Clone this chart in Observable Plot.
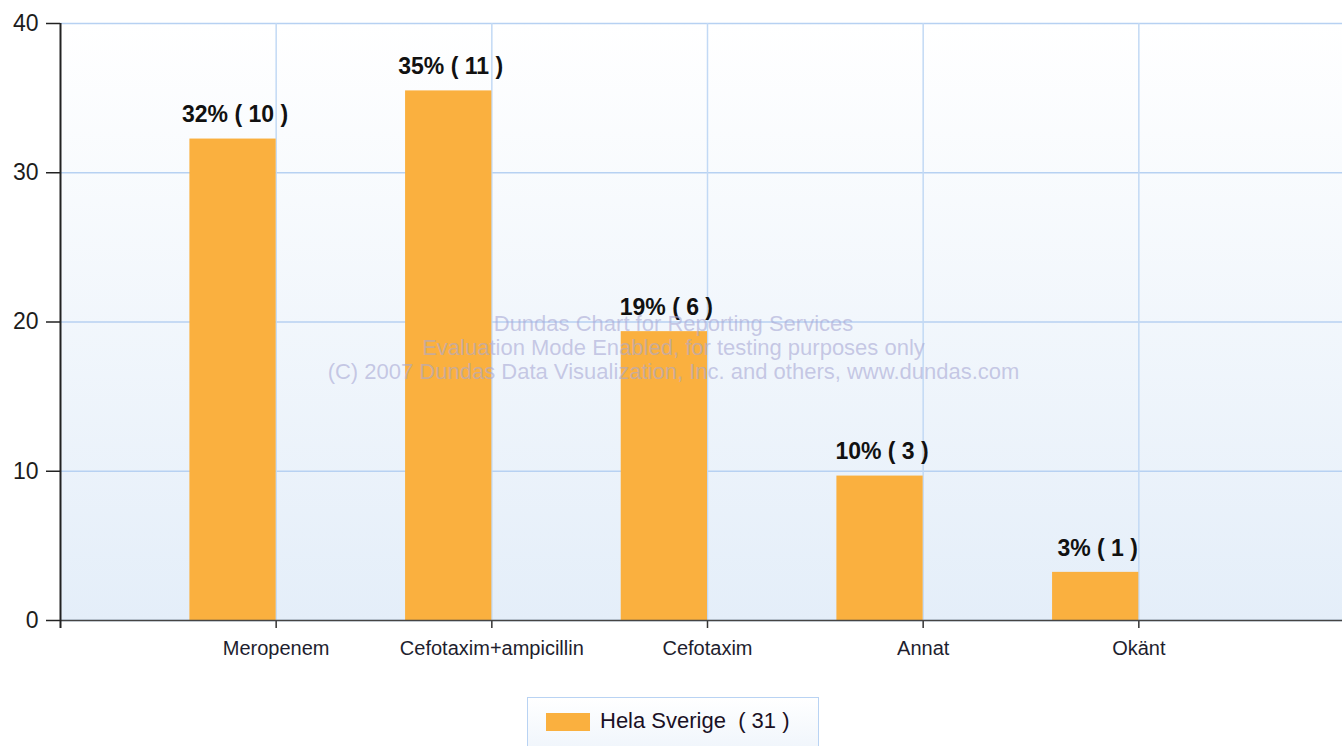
<!DOCTYPE html>
<html><head><meta charset="utf-8">
<script src="https://cdn.jsdelivr.net/npm/d3@7"></script>
<script src="https://cdn.jsdelivr.net/npm/@observablehq/plot@0.6"></script>
<style>
html,body{margin:0;overflow:hidden;}
body{background:#fff;position:relative;width:1342px;height:746px;font-family:"Liberation Sans",Arial,sans-serif;}
#chart{width:1342px;overflow:hidden;}
#chart svg{display:block;max-width:none !important;}
#legend{position:absolute;left:527px;top:697px;width:292px;height:60px;border:1.5px solid #b9d3f3;background:linear-gradient(#ffffff,#eef4fb);box-sizing:border-box;}
#legend .sw{position:absolute;left:18px;top:15px;width:44px;height:18px;background:#FAB03F;}
#legend .tx{position:absolute;left:72px;top:10px;font-size:22px;color:#1a1024;white-space:pre;line-height:26px;}
</style></head><body>
<svg width="0" height="0" style="position:absolute"><defs><linearGradient id="bg" x1="0" y1="0" x2="0" y2="1"><stop offset="0" stop-color="#ffffff"/><stop offset="1" stop-color="#e4eef9"/></linearGradient></defs></svg>
<div id="chart"></div>
<div id="legend"><div class="sw"></div><div class="tx"></div></div>
<script>
const categories = ["Meropenem", "Cefotaxim+ampicillin", "Cefotaxim", "Annat", "Okänt"];
const counts = [10, 11, 6, 3, 1];
const total = 31;
const percentLabels = ["32%", "35%", "19%", "10%", "3%"];
const yTicks = [0, 10, 20, 30, 40];
const seriesName = "Hela Sverige";
const watermark = ["Dundas Chart for Reporting Services", "Evaluation Mode Enabled, for testing purposes only", "(C) 2007 Dundas Data Visualization, Inc. and others, www.dundas.com"];

const data = categories.map((c, k) => ({
  i: k + 1,
  cat: c,
  value: counts[k] / total * 100,
  label: `${percentLabels[k]} ( ${counts[k]} )`
}));
const idx = data.map(d => d.i);

const chart = Plot.plot({
  width: 1354,
  height: 690,
  marginLeft: 60,
  marginRight: 0,
  marginTop: 23,
  marginBottom: 70,
  x: {domain: [0, 6]},
  y: {domain: [0, 40]},
  style: {fontFamily: "'Liberation Sans', Arial, sans-serif", background: "transparent", maxWidth: "none"},
  marks: [
    Plot.frame({fill: "url(#bg)", stroke: "none"}),
    Plot.gridY(yTicks, {stroke: "#b7d1f2", strokeOpacity: 1, strokeWidth: 1.5}),
    Plot.gridX(idx, {stroke: "#c2d9f5", strokeOpacity: 1, strokeWidth: 1.5}),
    Plot.rectY(data, {x1: d => d.i - 0.4, x2: d => d.i, y: "value", fill: "#FAB03F"}),
    Plot.text(data, {x: d => d.i - 0.2, y: "value", text: "label", dy: -24, dx: 2, lineAnchor: "middle", fontSize: 23, fontWeight: "bold", fill: "#111"}),
    Plot.text([watermark.join("\n")], {frameAnchor: "middle", dx: -34, dy: 25, lineHeight: 1.1, fontSize: 22, fill: "#a8a8d4", fillOpacity: 0.6}),
    Plot.axisY({ticks: yTicks, tickSize: 14, tickPadding: 8, fontSize: 23, fill: "#1c1c1c", stroke: "#222", strokeWidth: 1.5, label: null}),
    Plot.axisX({ticks: idx, tickFormat: i => categories[i - 1], tickSize: 8, tickPadding: 12, fontSize: 20, fill: "#1e1e2e", stroke: "#333", strokeWidth: 1.5, label: null}),
    Plot.ruleY([0], {stroke: "#444", strokeWidth: 1.5}),
    Plot.ruleX([0], {stroke: "#222", strokeWidth: 2, insetBottom: -8})
  ]
});
document.getElementById("chart").appendChild(chart);
document.querySelector("#legend .tx").textContent = `${seriesName}  ( ${total} )`;
</script>
</body></html>
